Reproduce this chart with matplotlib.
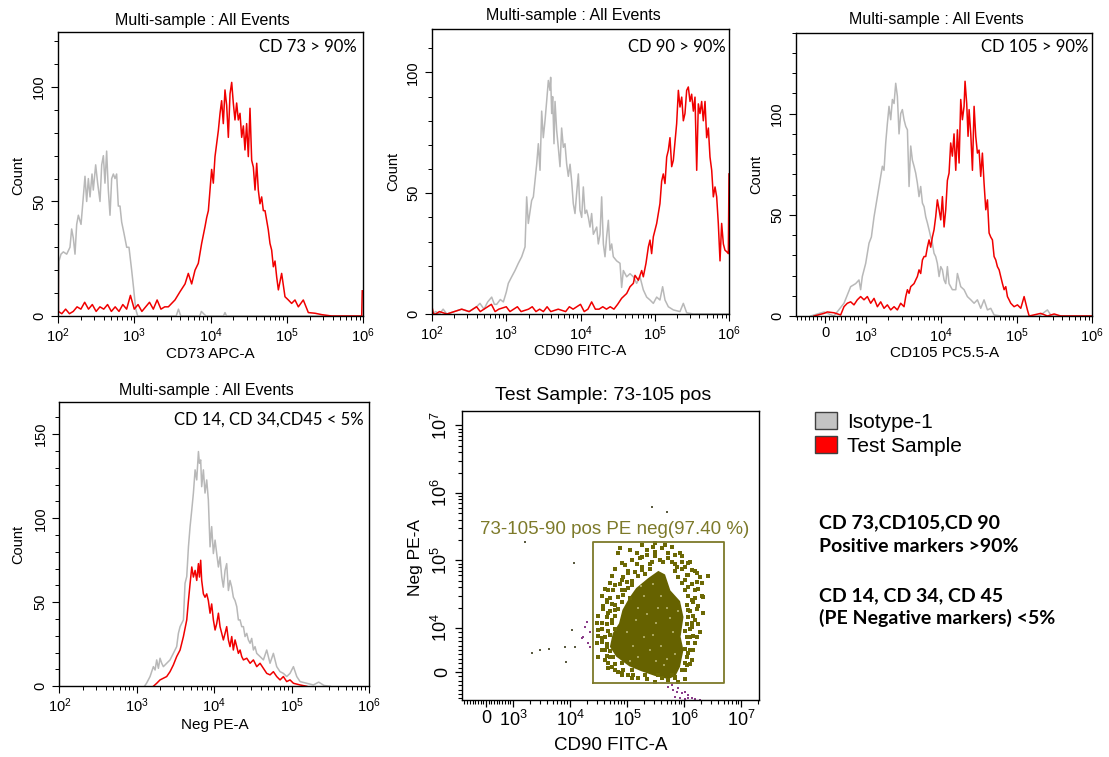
import matplotlib
matplotlib.use("Agg")
import matplotlib.pyplot as plt
import numpy as np
from matplotlib.patches import Patch
from matplotlib.ticker import FixedLocator, NullFormatter

plt.rcParams['font.family'] = 'Liberation Sans'
plt.rcParams['mathtext.fontset'] = 'custom'
plt.rcParams['mathtext.rm'] = 'Liberation Sans'
plt.rcParams['mathtext.it'] = 'Liberation Sans:italic'

# ---------------- data ----------------
# panel 1 : CD73 APC-A   (x as log10 intensity, y = count)
p1_gray_log = [2.00, 2.013, 2.039, 2.070, 2.114, 2.157, 2.179, 2.201, 2.223, 2.245, 2.267, 2.302, 2.332, 2.354,
               2.376, 2.398, 2.420, 2.446, 2.463, 2.494, 2.520, 2.551, 2.573, 2.595, 2.616, 2.638, 2.660, 2.682,
               2.704, 2.726, 2.748, 2.769, 2.791, 2.813, 2.835, 2.866, 2.901, 2.931, 2.966, 2.992, 3.019, 3.045,
               3.075, 3.55, 3.58, 3.61, 3.86, 3.88, 3.91, 3.94, 4.17, 4.19, 4.21, 6.0]
p1_gray_cnt = [0, 24, 27, 28, 27, 30, 38, 34, 27, 40, 44, 40, 52, 61,
               50, 60, 52, 62, 55, 66, 58, 50, 66, 70, 58, 72, 55, 44,
               60, 62, 60, 62, 48, 48, 41, 36, 30, 30, 20, 12, 3, 0,
               0, 0, 3, 0, 0, 2, 1, 0, 0, 1.5, 0, 0]
p1_red_log = [2.0, 2.005, 2.05, 2.10, 2.15, 2.20, 2.25, 2.30, 2.35, 2.40, 2.45, 2.50, 2.55, 2.60, 2.65, 2.70,
              2.75, 2.80, 2.85, 2.90, 2.95, 3.00, 3.05, 3.10, 3.15, 3.20, 3.25, 3.30, 3.35, 3.40,
              3.447, 3.534, 3.600, 3.666, 3.709, 3.753, 3.797, 3.840, 3.884, 3.928, 3.950, 3.972, 4.015, 4.037,
              4.059, 4.103, 4.125, 4.146, 4.168, 4.190, 4.212, 4.234, 4.256, 4.278, 4.299, 4.321, 4.343, 4.365,
              4.387, 4.409, 4.431, 4.452, 4.474, 4.496, 4.518, 4.540, 4.562, 4.584, 4.606, 4.627, 4.649, 4.671,
              4.693, 4.715, 4.758, 4.780, 4.802, 4.824, 4.846, 4.868, 4.890, 4.933, 4.977, 5.021, 5.064, 5.108,
              5.152, 5.217, 5.283, 5.371, 5.458, 5.589, 5.983, 5.99]
p1_red_cnt = [61, 2, 1, 3, 1, 2, 4, 3, 6, 3, 5, 2, 4, 3, 5, 2,
              4, 2, 5, 3, 9, 3, 5, 2, 4, 6, 3, 7, 3, 4,
              4, 7, 10.6, 14, 18.6, 14, 20, 23, 31.7, 39, 43, 46, 64, 58,
              69.6, 81, 88.5, 94, 84, 98.7, 92, 78, 97, 102, 93, 85.6, 93, 85.6,
              88.5, 78, 83, 72.5, 84, 69.6, 90.7, 68, 65, 55, 66.7, 55, 49, 52,
              46, 46, 37.6, 31.7, 28.8, 21.5, 24, 17, 11.4, 18.6, 8.4, 7, 5.5, 7,
              4, 7, 1.5, 1.2, 0.6, 0, 0, 11]

# panel 2 : CD90 FITC-A
p2_gray_log = [2.0, 2.05, 2.1, 2.15, 2.2, 2.3, 2.4, 2.5, 2.6, 2.646, 2.7, 2.75, 2.804, 2.84, 2.871, 2.92, 2.961,
               3.0, 3.028, 3.073, 3.118, 3.163, 3.208, 3.253, 3.275, 3.297, 3.342, 3.365, 3.410, 3.432, 3.455,
               3.477, 3.499, 3.522, 3.544, 3.567, 3.589, 3.598, 3.612, 3.625, 3.643, 3.657, 3.679, 3.701, 3.724,
               3.746, 3.769, 3.791, 3.814, 3.836, 3.859, 3.881, 3.903, 3.926, 3.948, 3.971, 3.993, 4.016, 4.038,
               4.061, 4.083, 4.106, 4.128, 4.150, 4.173, 4.218, 4.240, 4.263, 4.285, 4.308, 4.330, 4.352, 4.375,
               4.397, 4.420, 4.442, 4.487, 4.532, 4.554, 4.577, 4.622, 4.667, 4.712, 4.756, 4.801, 4.846, 4.891,
               4.936, 4.981, 5.026, 5.070, 5.106, 5.138, 5.183, 5.250, 5.340, 5.385, 5.430, 5.520, 5.654, 6.0]
p2_gray_cnt = [0, 1, 0, 2, 0, 1, 2, 1, 3, 4.4, 2, 5, 7, 4, 4, 6, 5,
               9, 12.7, 15.4, 18, 21, 23.7, 27.8, 48.5, 37.5, 47, 48.5, 62, 70.5, 59.5,
               84, 73, 80, 88, 96.7, 92.6, 98, 83, 90, 70.5, 88, 76, 69, 61,
               77, 69, 70.5, 62, 57, 62, 55, 45.7, 41.6, 50, 58, 43, 40, 52.6,
               41.6, 43, 40, 36, 41.6, 33, 36, 29, 33, 48.5, 29, 23.7, 32, 38.8,
               26.4, 29, 23.7, 22, 21, 11, 18, 15.4, 16.7, 15.4, 12.7, 15.4, 10, 7,
               5.8, 4.4, 7, 5.8, 11.3, 5.8, 3, 1.7, 1, 4.4, 0.5, 0, 0, 0]
p2_red_log = [2.0, 2.02, 2.05, 2.10, 2.2, 2.3, 2.4, 2.5, 2.6, 2.65, 2.7, 2.8, 2.85, 2.9, 3.0, 3.05, 3.1, 3.15,
              3.2, 3.3, 3.35, 3.4, 3.45, 3.5, 3.55, 3.6, 3.7, 3.8, 3.85, 3.9, 4.0, 4.05, 4.1, 4.15, 4.2, 4.25,
              4.3, 4.35, 4.4, 4.45, 4.5, 4.554, 4.622, 4.667, 4.712, 4.734, 4.779, 4.824, 4.846, 4.882, 4.914,
              4.936, 4.958, 4.981, 5.026, 5.070, 5.093, 5.115, 5.138, 5.161, 5.183, 5.205, 5.228, 5.250, 5.295,
              5.318, 5.340, 5.363, 5.385, 5.407, 5.430, 5.452, 5.475, 5.497, 5.520, 5.542, 5.565, 5.587, 5.609,
              5.632, 5.654, 5.677, 5.699, 5.722, 5.744, 5.767, 5.789, 5.812, 5.834, 5.856, 5.879, 5.901, 5.924,
              5.946, 5.969, 5.991, 6.0]
p2_red_cnt = [3, 0, 0, 1, 0, 1, 2, 1, 3, 1, 2, 4, 1, 2, 3, 1, 2, 3,
              1, 2, 3, 1, 2, 1, 3, 1, 2, 1, 3, 2, 4, 1, 2, 5, 2, 2,
              3, 2, 3, 2, 4, 6.5, 8.5, 11.3, 12.7, 16, 14, 18, 15.4, 21, 27.8,
              30.6, 25, 32, 37.5, 45.7, 55, 58, 54, 65, 67.8, 73, 61, 63.6, 78.8,
              92.6, 85.7, 89.8, 80, 83, 92.6, 94, 88, 91, 84, 89.8, 59.5, 87, 83,
              88, 80, 88, 73, 77, 65, 59.5, 48.5, 52.6, 48.5, 37.5, 22, 37.5, 29,
              26.4, 25.8, 25, 58]

# panel 3 : CD105 PC5.5-A  (x as raw intensity, bi-exponential axis)
p3_gray_val = [-361, -30, 215, 463, 628, 752, 834, 875, 916, 1000, 1107, 1189, 1290, 1429, 1581, 1664, 1750,
               1842, 1937, 2038, 2146, 2259, 2377, 2500, 2630, 2767, 2911, 3063, 3224, 3396, 3573, 3758, 3954,
               4159, 4375, 4603, 4842, 5093, 5358, 5649, 5943, 6252, 6577, 6918, 7278, 7656, 8054, 8472, 8913,
               9397, 9886, 10399, 10940, 11508, 12106, 12735, 14093, 15631, 16444, 17298, 18197, 20137, 22284,
               24717, 27353, 30269, 33497, 37068, 41115, 45499, 50350, 61660, 200000, 256400, 290000, 1e6]
p3_gray_cnt = [0, 2, 0, 6.3, 14.5, 16, 17.8, 13, 19.5, 26, 36, 39, 49, 59, 69, 74, 72,
               85.5, 95, 103.6, 97, 107, 105, 115, 108.6, 90, 100, 102, 97, 93.7, 92, 64, 84,
               77, 74, 70.6, 65.7, 59, 64, 55.8, 54, 49, 46, 42.6, 39, 36, 31, 29.4, 26,
               19.5, 24.4, 22.8, 17.8, 16, 24.4, 16, 13, 13, 21, 17.8, 14.5, 13, 9.6,
               8, 6.3, 8, 3.8, 8, 3, 3.8, 0.5, 0, 0, 3, 0, 0]
p3_red_val = [-280, -31, 50, 215, 380, 463, 545, 628, 710, 793, 875, 958, 1052, 1165, 1290, 1429, 1581, 1750,
              1937, 2146, 2377, 2630, 2911, 3224, 3396, 3573, 3758, 3954, 4375, 4603, 4842, 5093, 5358, 5649,
              5943, 6252, 6577, 6918, 7278, 7656, 8054, 8472, 8913, 9397, 9886, 10399, 10940, 11508, 12106,
              12735, 13397, 14093, 14825, 15631, 16444, 17298, 18197, 19143, 20137, 20750, 21830, 22750, 23490,
              24717, 26000, 27353, 28770, 30269, 31840, 33497, 35240, 37068, 39080, 41115, 43250, 45499, 47860,
              50350, 52970, 55720, 58750, 61660, 65010, 68390, 71940, 75683, 79620, 83750, 92683, 102800,
              113763, 125893, 132400, 139316, 146900, 209400, 256400, 314800, 385500, 1e6]
p3_red_cnt = [0, 1.3, 2, 1.6, 0.5, 4.6, 6.3, 7, 5.5, 8, 9.6, 8, 9.6, 6.3, 8.7, 4.6, 7, 3.8,
              5.5, 3, 4.6, 3, 6.3, 4.6, 9.6, 13, 11.2, 14.5, 16, 17.8, 19.5, 22.8, 21, 27.7,
              29.4, 29.4, 34, 37.6, 34, 39, 42.6, 49, 57.4, 52.5, 47.5, 59, 44, 52.5, 67,
              70.6, 85.5, 79, 90, 72, 92, 75.6, 107, 97, 103.6, 116, 105, 88.8, 102,
              90, 72, 103.6, 88.8, 80.5, 82, 69, 80.5, 65.7, 52.5, 57.4, 41, 39, 37.6,
              29.4, 27.7, 24.4, 22.8, 19.5, 16, 13, 14.5, 9.6, 8, 6.3, 4.6, 5.5,
              3.8, 9.6, 6.3, 3, 0, 1.3, 0, 1, 0, 0]

# panel 4 : Neg PE-A
p4_gray_log = [3.10, 3.129, 3.172, 3.215, 3.237, 3.258, 3.280, 3.301, 3.323, 3.344, 3.387, 3.430, 3.473, 3.516,
               3.538, 3.560, 3.603, 3.624, 3.646, 3.668, 3.689, 3.711, 3.732, 3.754, 3.775, 3.797, 3.810, 3.826,
               3.839, 3.861, 3.882, 3.904, 3.925, 3.947, 3.968, 3.990, 4.012, 4.033, 4.055, 4.076, 4.098, 4.119,
               4.141, 4.162, 4.184, 4.205, 4.227, 4.248, 4.270, 4.292, 4.313, 4.335, 4.356, 4.378, 4.399, 4.421,
               4.442, 4.464, 4.485, 4.507, 4.528, 4.550, 4.593, 4.636, 4.679, 4.722, 4.765, 4.808, 4.851, 4.894,
               4.937, 4.980, 5.024, 5.067, 5.110, 5.196, 5.282, 5.35, 5.42, 5.5]
p4_gray_cnt = [0, 2, 5.8, 11.7, 9.7, 15.7, 10.7, 16.7, 13.7, 11.7, 13.7, 15.7, 19.6, 23.6,
               31.5, 35.5, 39.5, 61.3, 65.3, 83, 95, 105, 115, 128.8, 122.8, 139.7, 132.7, 134.7,
               118.8, 128.8, 115, 122.8, 111, 83, 95, 79, 87, 79, 71, 77, 65, 59,
               69, 73, 57, 63, 59, 53, 51, 47.4, 39.5, 39.5, 35.5, 35.5, 29.6, 31.5,
               27.6, 25.6, 28.5, 21.6, 23.6, 19.6, 17.7, 15.7, 21.6, 13.7, 19.6, 11.7, 8.7, 7.7,
               5.8, 7.7, 11.7, 5.8, 2.8, 1.8, 0.8, 2.5, 0.5, 0]
p4_red_log = [3.215, 3.258, 3.301, 3.344, 3.387, 3.430, 3.473, 3.516, 3.560, 3.603, 3.646, 3.668, 3.689, 3.711,
              3.732, 3.754, 3.775, 3.797, 3.810, 3.826, 3.839, 3.861, 3.882, 3.904, 3.925, 3.947, 3.968, 3.990,
              4.012, 4.033, 4.055, 4.076, 4.098, 4.119, 4.141, 4.162, 4.184, 4.205, 4.227, 4.248, 4.270, 4.292,
              4.313, 4.335, 4.356, 4.378, 4.421, 4.464, 4.507, 4.550, 4.593, 4.636, 4.679, 4.722, 4.765, 4.808,
              4.851, 4.894, 4.937, 4.980, 5.024, 5.110, 5.196]
p4_red_cnt = [0, 1.8, 3.8, 4.8, 5.8, 8.7, 12.7, 17.7, 21.6, 29.6, 39.5, 51, 61, 71,
              65, 69, 63, 73, 65, 75, 63, 55, 53, 55, 51, 43.5, 49, 39.5,
              33.5, 37.3, 43.5, 35.5, 31.5, 27.6, 31.5, 35.5, 27.6, 23.6, 29.6, 21.6, 27.6, 23.6,
              19.6, 21.6, 17.7, 15.7, 16.7, 13.7, 15.7, 11.7, 13.7, 10.7, 7.7, 6.8, 8.7, 5.8,
              3.8, 5.8, 2.8, 3.8, 1.8, 0.8, 0]

# scatter : CD90 FITC-A (log10) vs Neg PE-A (raw)
gate_cd90 = [2.57e4, 4.97e6]
gate_pe = [-2430, 1.9e5]
core_outline = [(5.160, 3.9e4), (5.374, 5.5e4), (5.549, 7.0e4), (5.667, 6.2e4), (5.760, 3.6e4),
                (5.930, 2.5e4), (5.990, 1.45e4), (5.940, 8020), (5.990, 5000), (5.930, 1200),
                (5.850, -900), (5.725, -1600), (5.491, -900), (5.257, 150), (5.040, 1300),
                (4.810, 3500), (4.700, 5750), (4.750, 8800), (4.860, 1.17e4), (4.920, 1.85e4), (5.040, 2.8e4)]
core_specks = [(5.2, 2e4), (5.3, 3e4), (5.45, 4.5e4), (5.6, 3e4), (5.7, 2e4), (5.5, 1.2e4), (5.3, 8000),
               (5.1, 6000), (5.0, 9000), (5.4, 5000), (5.6, 6000), (5.8, 9000), (5.75, 1.4e4), (5.55, 2e4),
               (5.35, 1.6e4), (5.2, 3500), (5.5, 2500), (5.7, 3000), (5.85, 4000), (5.9, 1.8e4),
               (5.15, 1.3e4), (5.45, 8500), (5.65, 1500), (5.05, 2500), (5.25, 4.2e4)]
gate_events = [(5.462, 1.6e5), (5.491, 1.35e5), (5.608, 1.51e5), (5.725, 1.28e5), (5.842, 1.21e5),
               (5.345, 1.21e5), (5.228, 1.08e5), (5.082, 1.02e5), (4.965, 8.6e4), (4.877, 1.51e5),
               (4.848, 1.28e5), (5.257, 8.1e4), (5.433, 9.6e4), (5.579, 1.02e5), (5.784, 9.6e4),
               (5.871, 8.1e4), (5.959, 9.6e4), (6.105, 9.6e4), (6.135, 7.2e4), (6.047, 6.1e4),
               (5.140, 6.8e4), (5.023, 6.5e4), (4.906, 5.1e4), (4.789, 4.3e4), (4.673, 3.7e4),
               (4.643, 2.6e4), (4.585, 2.1e4), (4.731, 2.3e4), (4.848, 2.9e4), (4.965, 3.7e4),
               (6.076, 4.1e4), (6.193, 3.7e4), (6.310, 4.6e4), (6.135, 2.6e4), (6.251, 2.1e4),
               (6.076, 1.85e4), (6.193, 1.31e4), (6.135, 1.05e4), (6.105, 8030), (6.193, 6520),
               (6.076, 4240), (6.135, 2730), (6.018, 450), (4.556, 1.17e4), (4.497, 9550),
               (4.468, 6520), (4.556, 5000), (4.614, 2730), (4.731, 1210), (4.848, 76),
               (5.023, -680), (5.199, -1440), (5.491, -2200), (5.725, -1820), (5.901, -2200),
               (6.427, 5.8e4), (6.339, 2.9e4), (5.491, 1.8e5), (5.667, 1.7e5), (5.345, 1.43e5),
               (5.170, 1.28e5), (6.018, 5.1e4), (6.222, 6.5e4), (4.614, 8030), (4.643, 5760),
               (4.702, 3490), (4.906, -300), (5.842, -1060), (6.281, 9100), (6.339, 1.65e4),
               (4.731, 1.3e4), (4.789, 1.85e4), (4.906, 3.7e4), (5.082, 4.9e4), (6.018, 8.1e4),
               (5.053, 1.43e5), (5.257, 1.7e5), (5.784, 1.6e5), (5.930, 1.28e5), (4.673, 1.65e4),
               (4.556, 7650), (4.497, 3490), (4.673, 830), (6.164, 5000), (6.047, 1590), (6.222, 8030)]
halo_events = [(5.257, 1.12e5), (5.491, 1.18e5), (5.725, 1.1e5), (5.959, 1.15e5),
               (4.906, 9.3e4), (5.170, 8.8e4), (5.404, 9.0e4), (5.637, 9.4e4), (5.842, 8.9e4), (6.076, 9.2e4),
               (4.789, 7.4e4), (5.023, 7.0e4), (5.257, 7.3e4), (5.404, 7.6e4), (5.842, 7.0e4), (5.959, 7.4e4),
               (6.193, 7.1e4), (4.731, 5.9e4), (4.936, 5.6e4), (5.199, 5.9e4), (5.316, 6.2e4), (5.901, 5.7e4),
               (6.076, 6.0e4), (6.281, 5.6e4), (4.702, 4.7e4), (4.877, 4.5e4), (4.994, 4.8e4), (5.082, 4.4e4),
               (5.959, 4.7e4), (6.135, 4.5e4), (6.222, 4.8e4), (4.614, 3.8e4), (4.760, 3.6e4), (5.023, 3.9e4),
               (6.018, 3.6e4), (6.251, 3.8e4), (4.556, 3.0e4), (4.702, 2.8e4), (4.936, 3.1e4), (5.053, 2.8e4),
               (6.076, 3.0e4), (6.193, 2.8e4), (6.310, 3.0e4), (4.643, 2.4e4), (4.789, 2.2e4), (4.906, 2.4e4),
               (6.047, 2.2e4), (6.164, 2.4e4), (4.585, 1.9e4), (4.702, 1.8e4), (4.848, 1.9e4), (6.105, 1.8e4),
               (6.222, 1.9e4), (4.497, 1.5e4), (4.643, 1.45e4), (4.789, 1.5e4), (6.076, 1.45e4), (6.164, 1.5e4),
               (4.468, 1.2e4), (4.643, 1.15e4), (4.731, 1.2e4), (6.047, 1.15e4), (6.135, 1.2e4), (6.251, 1.15e4),
               (4.556, 9700), (4.673, 9300), (4.789, 9800), (6.018, 9400), (6.105, 9700),
               (4.497, 8200), (4.614, 7900), (4.702, 8300), (6.047, 7900), (6.164, 8200),
               (4.556, 6700), (4.643, 6300), (6.076, 6600), (4.614, 5100), (4.702, 4800), (6.018, 5200),
               (6.105, 4900), (4.643, 3600), (4.760, 3300), (6.047, 3500), (4.673, 2100), (4.789, 1800),
               (4.906, 2000), (6.018, 2100), (6.105, 1900), (4.789, 500), (4.936, 350), (5.082, 550),
               (5.959, 450), (4.906, -600), (5.111, -750), (5.316, -650), (5.550, -700), (5.784, -600),
               (5.082, -1400), (5.345, -1500), (5.608, -1450), (5.842, -1400), (6.018, -1500)]
other_events = [(3.327, 4400), (3.474, 5000), (3.637, 5150), (3.912, 5760), (4.088, 5760), (3.930, 2350),
                (4.029, 9550), (4.076, 9.3e4), (3.211, 1.9e5), (5.433, 6.1e5), (5.696, 5.3e5)]
ungated_events = [(4.234, 8030), (4.263, 1.05e4), (4.322, 6520), (4.351, 5760), (4.205, 7650),
                  (4.292, 1.24e4), (4.351, 9170), (5.725, -3340), (5.813, -4090), (5.871, -4470),
                  (5.959, -4850), (6.018, -4470), (6.076, -5230), (6.135, -5990), (6.193, -6220),
                  (6.281, -6300), (5.842, -5610), (5.930, -5990), (5.784, -2960), (5.901, -3710),
                  (6.076, -5990), (6.018, -6220)]

GRAY = '#b8b8b8'
RED = '#f00000'
OLIVE = '#666200'
W, H = 1109, 757


def box(l, t, r, b):
    return [l / W, 1 - b / H, (r - l) / W, (b - t) / H]


def sup(e):
    return r'$\mathregular{10^{%d}}$' % e


def style(ax, ymax, ymajor, minor_top):
    for s in ax.spines.values():
        s.set_linewidth(1.0)
        s.set_color('black')
    ax.tick_params(which='major', direction='out', length=5, width=0.8, colors='black')
    ax.tick_params(which='minor', direction='out', length=3, width=0.7, colors='black')
    ax.tick_params(axis='x', labelsize=10.5, pad=2.5)
    ax.set_ylim(0, ymax)
    ax.set_yticks(ymajor)
    ax.set_yticklabels([str(v) for v in ymajor], rotation=90, va='center', fontsize=10.5)
    ax.tick_params(axis='y', pad=3.5)
    ax.yaxis.set_minor_locator(FixedLocator(list(range(0, minor_top + 1, 10))))


def log_x(ax):
    ax.set_xscale('log')
    ax.set_xlim(1e2, 1e6)
    ax.xaxis.set_major_locator(FixedLocator([10.0 ** e for e in range(2, 7)]))
    ax.set_xticklabels([sup(e) for e in range(2, 7)])
    ax.xaxis.set_minor_locator(FixedLocator([k * 10.0 ** e for e in range(2, 6) for k in range(2, 10)]))
    ax.xaxis.set_minor_formatter(NullFormatter())


def hist_text(ax, title, note, nx, ny, tx, ty, xlabel, lx, ly, cx, cy):
    ax.text(tx, ty, title, transform=ax.transAxes, ha='center', va='center', fontsize=11.5)
    ax.text(nx, ny, note, transform=ax.transAxes, ha='right', va='center', fontsize=12, family='Lato')
    ax.set_xlabel(xlabel, fontsize=11)
    ax.xaxis.set_label_coords(lx, ly)
    ax.xaxis.label.set_va('center')
    ax.set_ylabel('Count', fontsize=10.5)
    ax.yaxis.set_label_coords(cx, cy)
    ax.yaxis.label.set_va('center')


fig = plt.figure(figsize=(W / 100, H / 100), dpi=100)

# panel 1
ax1 = fig.add_axes(box(58, 32, 363, 316))
ax1.plot(10 ** np.array(p1_gray_log), p1_gray_cnt, color=GRAY, lw=1.1)
ax1.plot(10 ** np.array(p1_red_log), p1_red_cnt, color=RED, lw=1.1)
log_x(ax1)
style(ax1, 124, [0, 50, 100], 120)
hist_text(ax1, 'Multi-sample : All Events', 'CD 73 > 90%', 0.981, 0.948, 0.474, 1.042,
          'CD73 APC-A', 0.5, -0.134, -0.131, 0.496)

# panel 2
ax2 = fig.add_axes(box(432, 29, 729, 314))
ax2.plot(10 ** np.array(p2_gray_log), p2_gray_cnt, color=GRAY, lw=1.1)
ax2.plot(10 ** np.array(p2_red_log), p2_red_cnt, color=RED, lw=1.1)
log_x(ax2)
style(ax2, 118, [0, 50, 100], 110)
hist_text(ax2, 'Multi-sample : All Events', 'CD 90 > 90%', 0.990, 0.938, 0.476, 1.046,
          'CD90 FITC-A', 0.5, -0.130, -0.130, 0.499)

# panel 3 (bi-exponential x axis)
ax3 = fig.add_axes(box(796, 32.7, 1092, 316))
ax3.plot(p3_gray_val, p3_gray_cnt, color=GRAY, lw=1.1)
ax3.plot(p3_red_val, p3_red_cnt, color=RED, lw=1.1)
ax3.set_xscale('symlog', linthresh=1e3, linscale=0.482)
ax3.set_xlim(-725, 1e6)
ax3.xaxis.set_major_locator(FixedLocator([0, 1e3, 1e4, 1e5, 1e6]))
ax3.set_xticklabels(['0', sup(3), sup(4), sup(5), sup(6)])
ax3.xaxis.set_minor_locator(FixedLocator([v for v in range(-700, 1000, 100) if v != 0] +
                                         [k * 10.0 ** e for e in range(3, 6) for k in range(2, 10)]))
ax3.xaxis.set_minor_formatter(NullFormatter())
style(ax3, 140, [0, 50, 100], 140)
hist_text(ax3, 'Multi-sample : All Events', 'CD 105 > 90%', 0.987, 0.951, 0.475, 1.045,
          'CD105 PC5.5-A', 0.503, -0.132, -0.133, 0.498)

# panel 4
ax4 = fig.add_axes(box(59.3, 402.3, 369, 686.3))
ax4.plot(10 ** np.array(p4_gray_log), p4_gray_cnt, color=GRAY, lw=1.1)
ax4.plot(10 ** np.array(p4_red_log), p4_red_cnt, color=RED, lw=1.1)
log_x(ax4)
style(ax4, 169, [0, 50, 100, 150], 160)
hist_text(ax4, 'Multi-sample : All Events', 'CD 14, CD 34,CD45 < 5%', 0.982, 0.938, 0.474, 1.043,
          'Neg PE-A', 0.503, -0.136, -0.132, 0.498)

# scatter
ax5 = fig.add_axes(box(462.3, 411.3, 759.3, 700))
cx, cy = zip(*core_outline)
ax5.fill(10 ** np.array(cx), cy, color=OLIVE, lw=0)
for pts, col, size in [(core_specks, '#a9a55c', 2.5), (gate_events, '#6c6804', 6), (halo_events, '#6c6804', 6),
                       (other_events, '#5a5a40', 4), (ungated_events, '#8a3c8a', 4)]:
    px, py = zip(*pts)
    ax5.scatter(10 ** np.array(px), py, s=size, marker='s', color=col, lw=0)
ax5.plot([gate_cd90[0], gate_cd90[1], gate_cd90[1], gate_cd90[0], gate_cd90[0]],
         [gate_pe[0], gate_pe[0], gate_pe[1], gate_pe[1], gate_pe[0]], color='#7d7a2a', lw=1.3)
ax5.set_xscale('symlog', linthresh=1e3, linscale=0.426)
ax5.set_yscale('symlog', linthresh=1e4, linscale=0.587)
ax5.set_xlim(-878, 2.09e7)
ax5.set_ylim(-6360, 1.62e7)
ax5.xaxis.set_major_locator(FixedLocator([0, 1e3, 1e4, 1e5, 1e6, 1e7]))
ax5.set_xticklabels(['0', sup(3), sup(4), sup(5), sup(6), sup(7)], fontsize=13)
ax5.xaxis.set_minor_locator(FixedLocator([v for v in range(-800, 1000, 100) if v != 0] +
                                         [k * 10.0 ** e for e in range(3, 7) for k in range(2, 10)] + [2e7]))
ax5.xaxis.set_minor_formatter(NullFormatter())
ax5.yaxis.set_major_locator(FixedLocator([0, 1e4, 1e5, 1e6, 1e7]))
ax5.set_yticklabels(['0', sup(4), sup(5), sup(6), sup(7)], fontsize=13, rotation=90, va='center')
ax5.yaxis.set_minor_locator(FixedLocator([v for v in range(-6000, 10000, 1000) if v != 0] +
                                         [k * 10.0 ** e for e in range(4, 7) for k in range(2, 10)]))
ax5.yaxis.set_minor_formatter(NullFormatter())
for s in ax5.spines.values():
    s.set_linewidth(1.0)
ax5.tick_params(which='major', direction='out', length=5, width=0.9)
ax5.tick_params(which='minor', direction='out', length=3, width=0.8)
ax5.tick_params(axis='x', pad=2)
ax5.tick_params(axis='y', pad=3)
ax5.text(0.475, 1.053, 'Test Sample: 73-105 pos', transform=ax5.transAxes, ha='center', va='center',
         fontsize=14)
ax5.text(0.060, 0.589, '73-105-90 pos PE neg(97.40 %)', transform=ax5.transAxes, ha='left', va='center',
         fontsize=13.5, color='#7d7a2a')
ax5.set_xlabel('CD90 FITC-A', fontsize=13.5)
ax5.xaxis.set_label_coords(0.5, -0.156)
ax5.xaxis.label.set_va('center')
ax5.set_ylabel('Neg PE-A', fontsize=12.5)
ax5.yaxis.set_label_coords(-0.159, 0.495)
ax5.yaxis.label.set_va('center')

# legend and notes
handles = [Patch(facecolor='#c4c4c4', edgecolor='#404040', lw=1.0),
           Patch(facecolor='#ff0000', edgecolor='#404040', lw=1.0)]
fig.legend(handles, ['Isotype-1', 'Test Sample'], loc='upper left', bbox_to_anchor=(815 / W, 1 - 412 / H),
           frameon=False, fontsize=15, handlelength=1.05, handleheight=0.9, handletextpad=0.5,
           labelspacing=0.2, borderpad=0, borderaxespad=0)

notes = [('CD 73,CD105,CD 90', 522.7), ('Positive markers >90%', 546.7),
         ('CD 14, CD 34, CD 45', 596), ('(PE Negative markers) <5%', 618)]
for txt, yp in notes:
    fig.text(819.3 / W, 1 - yp / H, txt, ha='left', va='center', fontsize=14, fontweight='bold', family='Lato')

fig.savefig('out.png', dpi=100, facecolor='white')
